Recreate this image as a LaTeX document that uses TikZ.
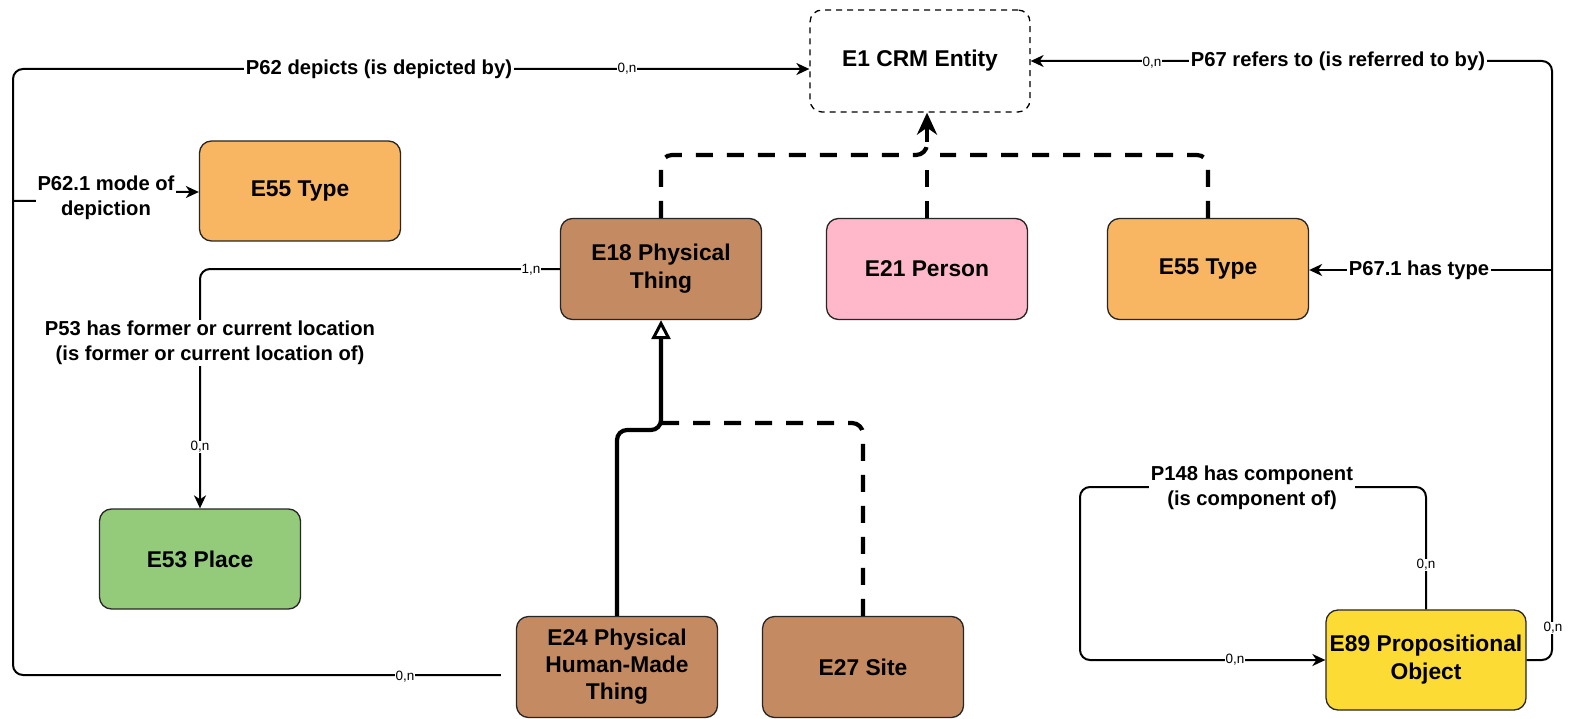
\documentclass[tikz,border=0pt]{standalone}
\usepackage{fontspec}
\setmainfont{Liberation Sans}
\usetikzlibrary{arrows.meta}
\definecolor{typeorange}{HTML}{F8B562}
\definecolor{thingbrown}{HTML}{C48A62}
\definecolor{personpink}{HTML}{FFB8C9}
\definecolor{placegreen}{HTML}{93CB7B}
\definecolor{propyellow}{HTML}{FCDB35}
\tikzset{
  reltip/.tip={Stealth[length=13pt,width=12pt,inset=4pt]},
  isatip/.tip={Stealth[length=22pt,width=20pt,inset=7pt]},
  opentip/.tip={Triangle[open,length=19pt,width=19pt,line width=3pt]},
  cls/.style={draw=black!85, line width=1.3pt, rounded corners=12pt,
    minimum width=201pt, minimum height=100pt, align=center, inner sep=1pt,
    font=\fontsize{22.8}{28}\selectfont\bfseries},
  rel/.style={draw=black, line width=2pt, rounded corners=10pt},
  isa/.style={draw=black, line width=4.2pt, rounded corners=11pt,
    dash pattern=on 17pt off 14pt},
  lbl/.style={fill=white, inner sep=1.5pt, align=center,
    font=\fontsize{20.2}{25}\selectfont\bfseries},
  card/.style={fill=white, inner sep=0.6pt, font=\fontsize{13.5}{15}\selectfont}
}
\begin{document}
\begin{tikzpicture}[x=1pt,y=-1pt]
\fill[white] (0,0) rectangle (1570,719);
\useasboundingbox (0,0) rectangle (1570,719);

% classes
\node[cls, draw=black, dash pattern=on 6pt off 5pt, minimum width=220pt, minimum height=102pt]
  (E1) at (920,61) {E1 CRM Entity};
\node[cls, fill=typeorange] (E55a) at (300,191) {E55 Type};
\node[cls, fill=thingbrown, minimum height=101pt] (E18) at (661,269) {E18 Physical\\Thing};
\node[cls, fill=personpink, minimum height=101pt] (E21) at (927,269) {E21 Person};
\node[cls, fill=typeorange, minimum height=101pt] (E55b) at (1208,269) {E55 Type};
\node[cls, fill=placegreen] (E53) at (200,559) {E53 Place};
\node[cls, fill=thingbrown, minimum height=101pt, font=\fontsize{22.8}{27}\selectfont\bfseries]
  (E24) at (617,667) {E24 Physical\\Human-Made\\Thing};
\node[cls, fill=thingbrown, minimum height=101pt] (E27) at (863,667) {E27 Site};
\node[cls, fill=propyellow, minimum width=200pt] (E89) at (1426,660) {E89 Propositional\\Object};

% subclass links into E1
\draw[isa] (E55b.north) -- (E55b.north |- 0,155) -- (940,155);
\draw[isa] (E21.north) -- (E21.north |- 0,160);
\draw[isa] (E18.north) -- (E18.north |- 0,155) -- (E21.north |- 0,155) -- (E21.north |- 0,140);
\draw[line width=4.2pt, -{isatip}] (E21.north |- 0,142) -- (E21.north |- E1.south);

% subclass links into E18
\draw[isa] (E27.north) -- (E27.north |- 0,423) -- (E18.south |- 0,423);
\draw[line width=4.2pt, rounded corners=10pt, -{opentip}]
  (E24.north) -- (E24.north |- 0,430) -- (E18.south |- 0,430) -- (E18.south);

% P62 depicts
\coordinate (p62corner) at (13,69);
\draw[rel, -{reltip}, shorten <=15pt]
  ([yshift=-8pt]E24.west) -- (p62corner |- 0,675) -- (p62corner) -- ([yshift=-8pt]E1.west);
\node[lbl] (p62) at (379,69) {P62 depicts (is depicted by)};
\node[card] (c62a) at (627,69) {0,n};
\node[card] (c62b) at (405,677) {0,n};

% P62.1 mode of depiction
\coordinate (p621) at (13,201);
\draw[rel, rounded corners=2pt, -{reltip}] (p621) -- (100,201) -- (100,192) -- (E55a.west |- 0,192);
\node[lbl] (p621l) at (106,198) {P62.1 mode of\\depiction};

% P53 has former or current location
\draw[rel, -{reltip}] (E18.west) -| (E53.north);
\node[lbl] (p53) at (210,343) {P53 has former or current location\\(is former or current location of)};
\node[card] (c53a) at (531,270) {1,n};
\node[card] (c53b) at (200,447) {0,n};

% P67 refers to
\coordinate (p67corner) at (1552,61);
\draw[rel, -{reltip}] (E89.east) -- (p67corner |- E89.east) -- (p67corner) -- (E1.east);
\node[lbl] (p67) at (1338,61) {P67 refers to (is referred to by)};
\node[card] (c67a) at (1152,63) {0,n};
\node[card] (c67b) at (1553,628) {0,n};

% P67.1 has type
\coordinate (p671) at (1552,270);
\draw[rel, -{reltip}] (p671) -- (E55b.east |- p671);
\node[lbl] (p671l) at (1419,270) {P67.1 has type};

% P148 has component
\draw[rel, -{reltip}] (E89.north) -- (E89.north |- 0,487) -- (1080,487) -- (1080,660) -- (E89.west);
\node[lbl] (p148) at (1252,488) {P148 has component\\(is component of)};
\node[card] (c148a) at (1426,565) {0,n};
\node[card] (c148b) at (1235,660) {0,n};
\end{tikzpicture}
\end{document}
